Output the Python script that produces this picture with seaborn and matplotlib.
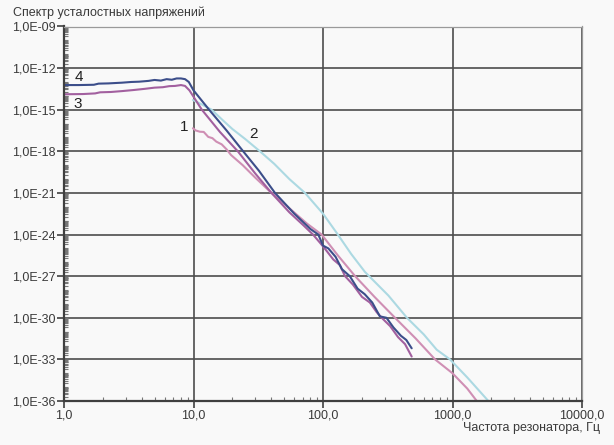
import numpy as np
import pandas as pd
import matplotlib
matplotlib.use("Agg")
import matplotlib.pyplot as plt
import seaborn as sns
from matplotlib.ticker import FixedLocator, NullFormatter

# ---- data ----
curve4_x = [1.0, 1.3, 1.7, 1.85, 2.2, 2.8, 3.3, 3.8, 4.5, 5.0, 5.6, 6.2, 6.8, 7.4, 8.0, 8.6, 9.2, 10.0,
            13.2, 18, 24.2, 32, 42.6, 60, 80, 92, 100, 110, 125, 140, 161, 185, 210, 240, 275, 309, 350, 400, 440, 484]
curve4_y = [6.0e-14, 6.0e-14, 6.3e-14, 7.6e-14, 7.9e-14, 8.9e-14, 1.0e-13, 1.05e-13, 1.2e-13, 1.4e-13, 1.26e-13,
            1.6e-13, 1.45e-13, 1.8e-13, 1.8e-13, 1.6e-13, 1.0e-13, 2.5e-14,
            1.0e-15, 3.2e-17, 1.0e-18, 4.0e-20, 1.0e-21, 3.2e-23, 2.5e-24, 1.0e-24, 1.6e-25, 1.0e-25, 2.5e-26,
            3.2e-27, 1.0e-27, 1.26e-28, 5.0e-29, 1.26e-29, 1.26e-30, 1.0e-30, 2.0e-31, 5.0e-32, 2.5e-32, 6.3e-33]

curve3_x = [1.0, 1.4, 1.74, 1.9, 2.3, 2.8, 3.4, 4.2, 5.0, 5.8, 6.5, 7.2, 8.0, 8.6, 9.3,
            11.6, 16, 22, 30, 40, 55, 70, 83.7, 95, 105, 120, 135, 148, 170, 200, 230, 260, 284, 330, 380, 430, 484]
curve3_y = [1.3e-14, 1.35e-14, 1.5e-14, 1.8e-14, 1.9e-14, 2.2e-14, 2.6e-14, 3.2e-14, 3.9e-14, 4.2e-14, 5.0e-14,
            5.2e-14, 6.0e-14, 5.2e-14, 2.5e-14,
            1.0e-15, 2.5e-17, 1.0e-18, 2.5e-20, 1.0e-21, 4.0e-23, 5.0e-24, 1.0e-24, 2.5e-25, 8.0e-26, 1.6e-26,
            6.3e-27, 1.0e-27, 2.5e-28, 3.2e-29, 1.26e-29, 2.5e-30, 1.0e-30, 2.5e-31, 4.0e-32, 1.26e-32, 1.6e-33]

curve1_x = [9.9, 10.4, 11.2, 12.0, 13.0, 14.0, 15.0, 16.5, 18.0, 19.5, 24, 30, 39, 55, 75, 97.6, 130, 177,
            250, 360, 520, 733, 1000, 1300, 1540]
curve1_y = [4.6e-17, 3.2e-17, 2.6e-17, 2.5e-17, 1.1e-17, 8.9e-18, 5.0e-18, 3.2e-18, 1.4e-18, 5.4e-19, 1.0e-19,
            1.26e-20, 1.26e-21, 7.9e-23, 6.3e-24, 1.0e-24, 3.2e-26, 1.0e-27, 3.2e-29, 1.0e-30, 3.2e-32, 1.0e-33,
            1.0e-34, 7.9e-36, 1.0e-36]

curve2_x = [9.9, 11.5, 13.8, 17, 20, 25, 32.6, 42, 55, 72.6, 100, 128, 165, 211, 320, 445, 600, 755, 956, 1300, 1892]
curve2_y = [5.0e-15, 2.5e-15, 1.0e-15, 1.6e-16, 4.0e-17, 7.9e-18, 1.0e-18, 1.26e-19, 1.0e-20, 1.0e-21, 3.2e-23,
            1.26e-24, 4.0e-26, 2.0e-27, 4.0e-29, 1.0e-30, 6.3e-32, 5.0e-33, 1.0e-33, 5.0e-35, 1.0e-36]

y_major = [1e-36, 1e-33, 1e-30, 1e-27, 1e-24, 1e-21, 1e-18, 1e-15, 1e-12, 1e-9]
y_labels = ["1,0E-36", "1,0E-33", "1,0E-30", "1,0E-27", "1,0E-24", "1,0E-21", "1,0E-18", "1,0E-15", "1,0E-12", "1,0E-09"]
x_major = [1, 10, 100, 1000, 10000]
x_labels = ["1,0", "10,0", "100,0", "1000,0", "10000,0"]

curve_labels = ["4", "3", "1", "2"]
label_x = [1.30, 1.28, 8.45, 29.3]
label_y = [2.3e-13, 2.6e-15, 5.6e-17, 1.8e-17]

title = "Спектр усталостных напряжений"
xlabel = "Частота резонатора, Гц"

# ---- style ----
sns.set_theme(style="white")
plt.rcParams["font.family"] = ["Liberation Sans", "DejaVu Sans"]
bg = "#f9f9f9"
fig = plt.figure(figsize=(6.14, 4.45), dpi=100, facecolor=bg)
ax = fig.add_axes([64 / 614, 1 - 401 / 445, (582 - 64) / 614, (401 - 26.5) / 445])
ax.set_facecolor(bg)

series = [
    (curve2_x, curve2_y, "#acd9e2"),
    (curve1_x, curve1_y, "#cf8fb4"),
    (curve3_x, curve3_y, "#a2609f"),
    (curve4_x, curve4_y, "#3c4e8a"),
]
for xs, ys, col in series:
    df = pd.DataFrame({"x": xs, "y": ys})
    sns.lineplot(data=df, x="x", y="y", ax=ax, color=col, linewidth=1.5, sort=False, estimator=None)

ax.set_xscale("log")
ax.set_yscale("log")
ax.set_xlim(1, 10000)
ax.set_ylim(1e-36, 1e-9)
ax.set_xlabel("")
ax.set_ylabel("")

ax.xaxis.set_major_locator(FixedLocator(x_major))
ax.set_xticklabels(x_labels)
ax.yaxis.set_major_locator(FixedLocator(y_major))
ax.set_yticklabels(y_labels)

xminor = [k * 10.0 ** n for n in range(0, 4) for k in range(2, 10)]
yminor = [k * 10.0 ** n for n in range(-36, -9) for k in range(1, 10) if not (k == 1 and n % 3 == 0)]
ax.xaxis.set_minor_locator(FixedLocator(xminor))
ax.yaxis.set_minor_locator(FixedLocator(yminor))
ax.xaxis.set_minor_formatter(NullFormatter())
ax.yaxis.set_minor_formatter(NullFormatter())

dark = "#3f3f3f"
ax.tick_params(axis="both", which="major", direction="out", length=5, width=1.2, color=dark,
               labelsize=9, labelcolor="#3a3a3a", pad=1, left=True, bottom=True)
ax.tick_params(axis="both", which="minor", direction="in", length=3, width=0.8, color="#777777",
               left=True, bottom=True)

ax.grid(True, which="major", color="#4d4d4d", linewidth=1.2)
ax.grid(False, which="minor")
for s in ["left", "bottom"]:
    ax.spines[s].set_color(dark)
    ax.spines[s].set_linewidth(1.6)
for s in ["top", "right"]:
    ax.spines[s].set_color("#9a9a9a")
    ax.spines[s].set_linewidth(0.9)
    ax.spines[s].set_visible(True)

for t, lx, ly in zip(curve_labels, label_x, label_y):
    ax.text(lx, ly, t, fontsize=11, color="#222222", ha="center", va="center")

fig.text(13 / 614, 1 - 13 / 445, title, fontsize=9, color="#3a3a3a", ha="left", va="center")
fig.text(600 / 614, 1 - 428 / 445, xlabel, fontsize=9, color="#3a3a3a", ha="right", va="center")

fig.savefig("out.png", dpi=100, facecolor=bg)
